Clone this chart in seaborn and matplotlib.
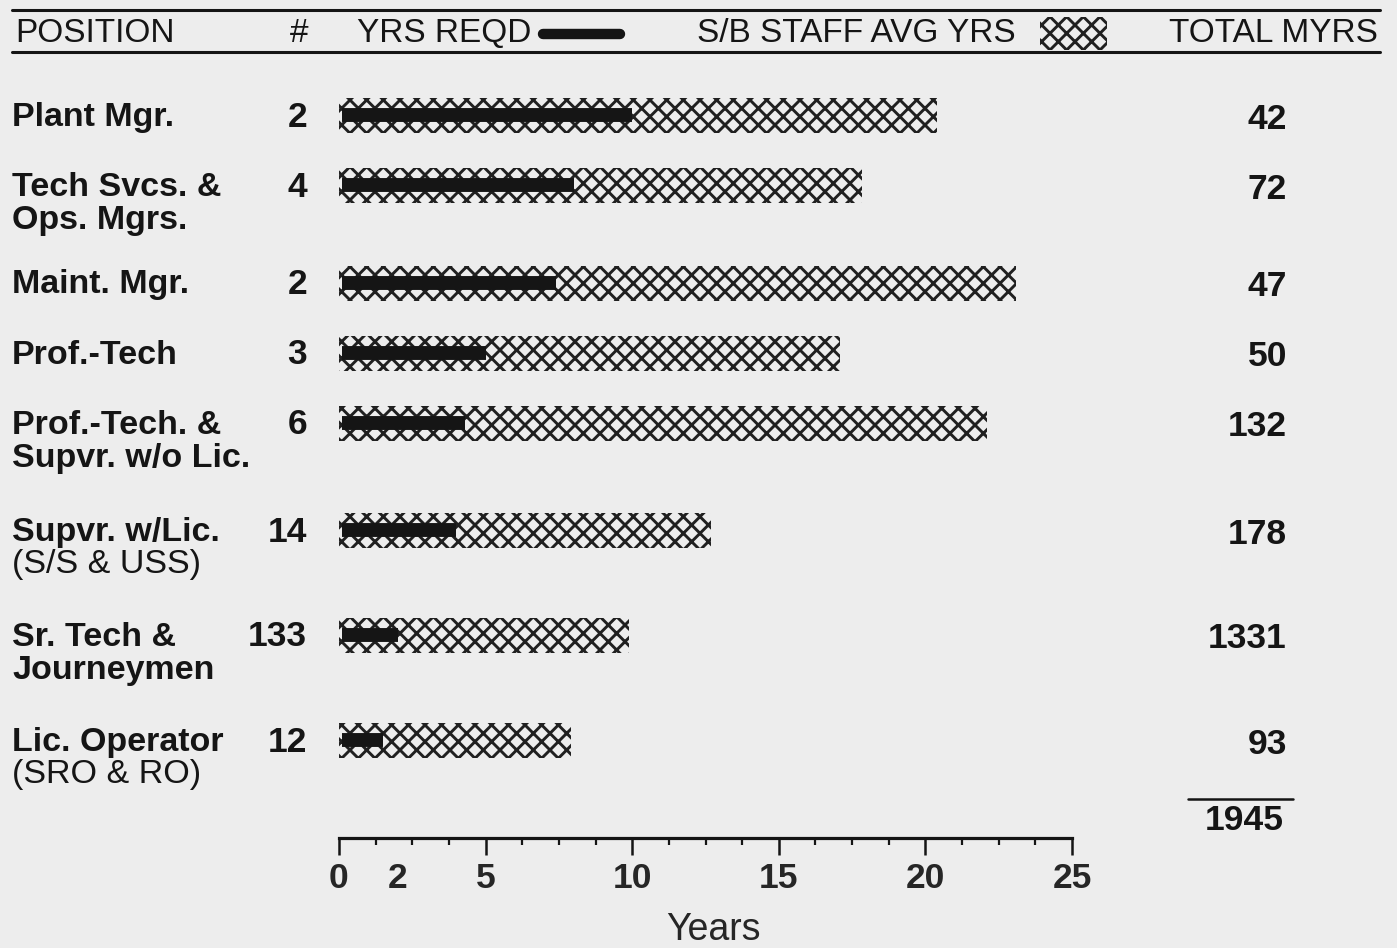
import numpy as np
import pandas as pd
import matplotlib
matplotlib.use("Agg")
import matplotlib.pyplot as plt
import matplotlib.transforms as mtransforms
from matplotlib.lines import Line2D
from matplotlib.patches import Rectangle
from matplotlib.ticker import MultipleLocator, FixedLocator
import seaborn as sns

# ---------------- data ----------------
positions = [
    "Plant Mgr.",
    "Tech Svcs. &\nOps. Mgrs.",
    "Maint. Mgr.",
    "Prof.-Tech",
    "Prof.-Tech. &\nSupvr. w/o Lic.",
    "Supvr. w/Lic.\n(S/S & USS)",
    "Sr. Tech &\nJourneymen",
    "Lic. Operator\n(SRO & RO)",
]
counts = [2, 4, 2, 3, 6, 14, 133, 12]
yrs_reqd = [10, 8, 7.4, 5, 4.3, 4, 2, 1.5]
staff_avg_yrs = [20.4, 17.85, 23.1, 17.1, 22.1, 12.7, 9.9, 7.9]
total_myrs = [42, 72, 47, 50, 132, 178, 1331, 93]
grand_total = 1945
x_tick_values = [0, 2, 5, 10, 15, 20, 25]
header_position = "POSITION"
header_count = "#"
header_reqd = "YRS REQD"
header_avg = "S/B STAFF AVG YRS"
header_total = "TOTAL MYRS"
x_label = "Years"

# ---------------- layout (pixels) ----------------
W, H = 1397, 948
row_y = [115, 185, 283, 353, 423, 530, 635, 740]
BG = "#ededed"
INK = "#151515"
HATCH = "#202020"

sns.set_style("white")
plt.rcParams["font.family"] = ["Liberation Sans", "DejaVu Sans"]
plt.rcParams["hatch.linewidth"] = 2.1
plt.rcParams["hatch.color"] = HATCH
plt.rcParams["text.color"] = INK

fig = plt.figure(figsize=(W / 100, H / 100), dpi=100, facecolor=BG)
x0_px, x1_px = 339, 1072
axis_px, top_px = 838, 60
ax = fig.add_axes([x0_px / W, (H - axis_px) / H, (x1_px - x0_px) / W, (axis_px - top_px) / H])
ax.set_facecolor("none")

df = pd.DataFrame({"row": row_y, "avg": staff_avg_yrs, "reqd": yrs_reqd})
sns.barplot(data=df, x="avg", y="row", orient="h", native_scale=True,
            width=35 / 70, color="white", errorbar=None, ax=ax)
for p in ax.patches:
    p.set_facecolor("none")
    p.set_edgecolor(HATCH)
    p.set_hatch("xx")
    p.set_linewidth(0)

lc = ax.hlines(df["row"], 0.1, df["reqd"], colors=INK, linewidth=10)
lc.set_capstyle("butt")

ax.set_xlim(0, 25)
ax.set_ylim(axis_px, top_px)
for s in ["top", "left", "right"]:
    ax.spines[s].set_visible(False)
ax.spines["bottom"].set_linewidth(2.3)
ax.spines["bottom"].set_color(INK)
ax.set_yticks([])
ax.set_ylabel("")
ax.xaxis.set_major_locator(FixedLocator(x_tick_values))
ax.xaxis.set_minor_locator(MultipleLocator(1.25))
ax.set_xticklabels([str(v) for v in x_tick_values])
ax.tick_params(axis="x", which="major", bottom=True, length=12, width=1.8, color=INK,
               labelsize=25.5, pad=5, direction="out")
ax.tick_params(axis="x", which="minor", bottom=True, length=5, width=1.6, color=INK,
               direction="out")
for lbl in ax.get_xticklabels():
    lbl.set_fontweight("bold")
for t in ax.xaxis.get_major_ticks():
    if t.get_loc() == 2:
        t.tick1line.set_visible(False)
ax.set_xlabel(x_label, fontsize=27)
ax.xaxis.label.set_va("center")
ax.xaxis.set_label_coords((713 - x0_px) / (x1_px - x0_px), -(930 - axis_px) / (axis_px - top_px))

# ---------------- text columns ----------------
tr = mtransforms.blended_transform_factory(fig.transFigure, ax.transData)
for i, lab in enumerate(positions):
    lines = lab.split("\n")
    y = row_y[i] + 2
    ax.text(12 / W, y, lines[0], transform=tr, ha="left", va="center",
            fontsize=24.5, fontweight="bold", clip_on=False)
    if len(lines) > 1:
        w = "normal" if lines[1].startswith("(") else "bold"
        ax.text(12 / W, y + 33, lines[1], transform=tr, ha="left", va="center",
                fontsize=24.5, fontweight=w, clip_on=False)
    ax.text(307 / W, y, str(counts[i]), transform=tr, ha="right", va="center",
            fontsize=25.5, fontweight="bold", clip_on=False)
    ax.text(1287 / W, row_y[i] + 4, str(total_myrs[i]), transform=tr, ha="right",
            va="center", fontsize=25.5, fontweight="bold", clip_on=False)

# grand total
fig.add_artist(Line2D([1188 / W, 1293 / W], [(H - 799) / H] * 2, color=INK, lw=1.8,
                      transform=fig.transFigure))
fig.text(1284 / W, (H - 820) / H, str(grand_total), ha="right", va="center",
         fontsize=25.5, fontweight="bold")

# ---------------- header ----------------
for yy in (10, 52):
    fig.add_artist(Line2D([12 / W, 1380 / W], [(H - yy) / H] * 2, color=INK, lw=2.2,
                          transform=fig.transFigure))
hy = (H - 33) / H
fig.text(15 / W, hy, header_position, ha="left", va="center", fontsize=24)
fig.text(299 / W, hy, header_count, ha="center", va="center", fontsize=24)
fig.text(357 / W, hy, header_reqd, ha="left", va="center", fontsize=24)
fig.add_artist(Line2D([543 / W, 620 / W], [(H - 34) / H] * 2, color=INK, lw=7.5,
                      solid_capstyle="round", transform=fig.transFigure))
fig.text(697 / W, hy, header_avg, ha="left", va="center", fontsize=24)
sw = Rectangle((1040 / W, (H - 50) / H), 67 / W, 33 / H, transform=fig.transFigure,
               facecolor="none", edgecolor=HATCH, hatch="xx", linewidth=0)
fig.add_artist(sw)
fig.text(1378 / W, hy, header_total, ha="right", va="center", fontsize=24)

fig.savefig("out.png", dpi=100, facecolor=BG)
